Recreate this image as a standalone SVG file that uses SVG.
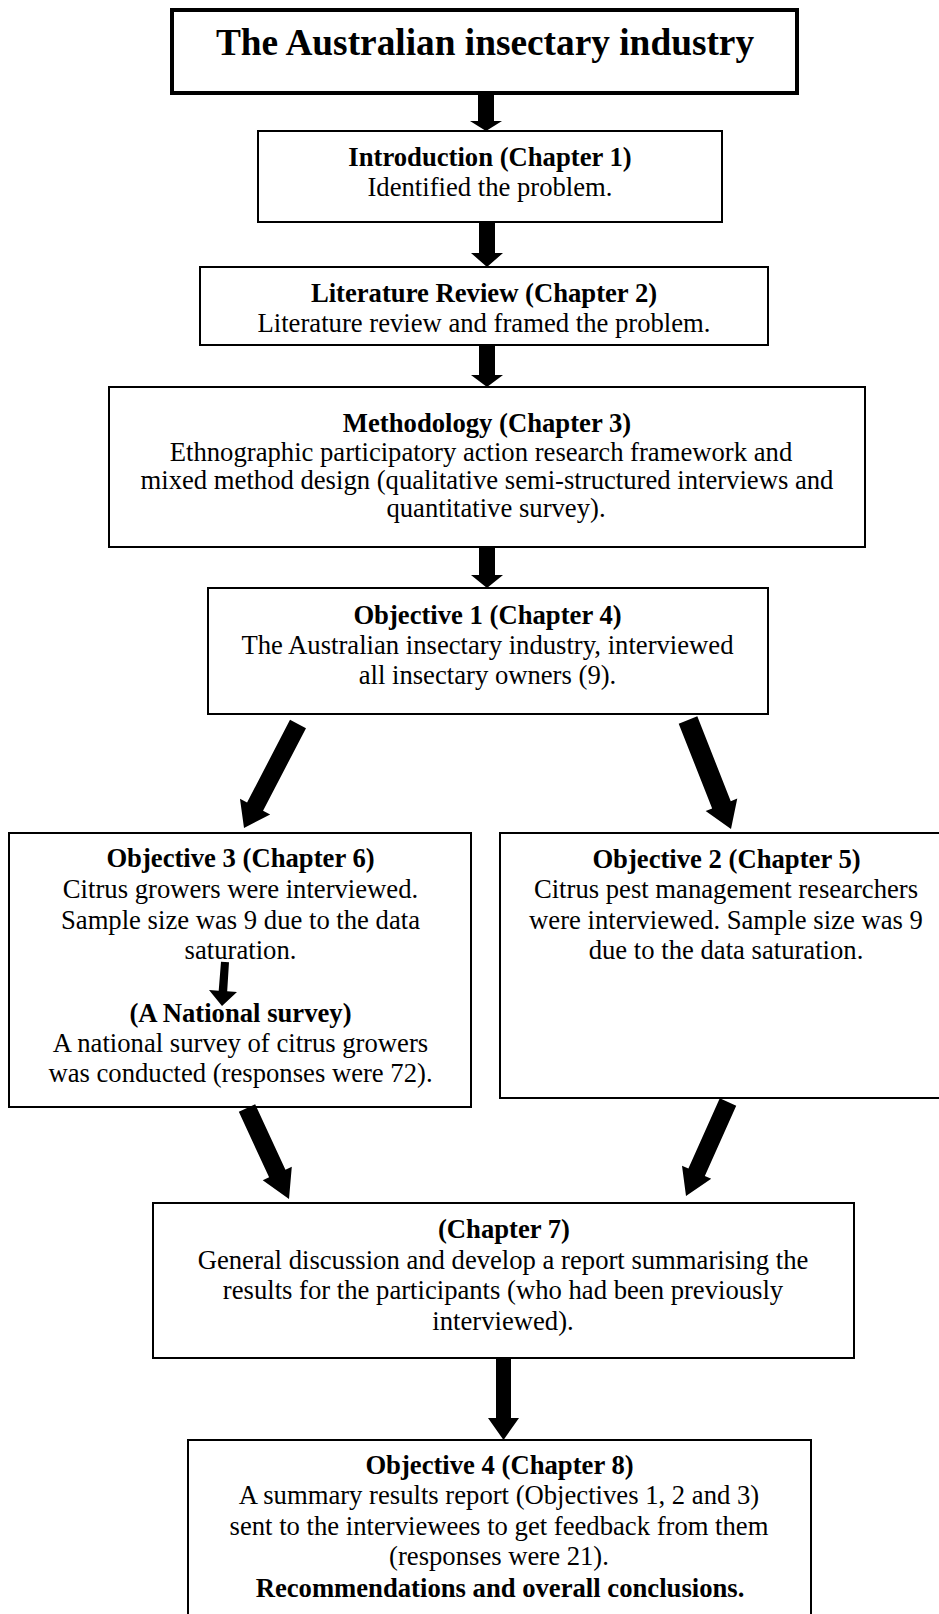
<svg xmlns="http://www.w3.org/2000/svg" width="939" height="1614" viewBox="0 0 939 1614">
<style>
.box{fill:#fff;stroke:#000;stroke-width:2}
.tbox{fill:#fff;stroke:#000;stroke-width:4}
.h{font-family:"Liberation Serif","Times New Roman",serif;font-weight:bold;font-size:26.67px;text-anchor:middle;fill:#000}
.t{font-family:"Liberation Serif","Times New Roman",serif;font-size:26.67px;text-anchor:middle;fill:#000}
.title{font-family:"Liberation Serif","Times New Roman",serif;font-weight:bold;font-size:37.33px;text-anchor:middle;fill:#000}
.arr{fill:#000;stroke:none}
</style>
<rect width="939" height="1614" fill="#fff"/>
<g id="title">
<rect class="tbox" x="172" y="10" width="625" height="83"/>
<text class="title" x="485" y="55">The Australian insectary industry</text>
</g>
<g id="intro">
<rect class="box" x="258" y="131" width="464" height="91"/>
<text class="h" x="490" y="165.5">Introduction (Chapter 1)</text>
<text class="t" x="490" y="195.5">Identified the problem.</text>
</g>
<g id="litreview">
<rect class="box" x="200" y="267" width="568" height="78"/>
<text class="h" x="484" y="301.5">Literature Review (Chapter 2)</text>
<text class="t" x="484" y="331.5">Literature review and framed the problem.</text>
</g>
<g id="method">
<rect class="box" x="109" y="387" width="756" height="160"/>
<text class="h" x="487" y="431.5">Methodology (Chapter 3)</text>
<text class="t" x="481" y="460.5">Ethnographic participatory action research framework and</text>
<text class="t" x="487" y="489">mixed method design (qualitative semi-structured interviews and</text>
<text class="t" x="496" y="517">quantitative survey).</text>
</g>
<g id="obj1">
<rect class="box" x="208" y="588" width="560" height="126"/>
<text class="h" x="487.5" y="623.5">Objective 1 (Chapter 4)</text>
<text class="t" x="487.5" y="653.5">The Australian insectary industry, interviewed</text>
<text class="t" x="487.5" y="684">all insectary owners (9).</text>
</g>
<g id="obj3">
<rect class="box" x="9" y="833" width="462" height="274"/>
<text class="h" x="240.5" y="867">Objective 3 (Chapter 6)</text>
<text class="t" x="240.5" y="898">Citrus growers were interviewed.</text>
<text class="t" x="240.5" y="928.5">Sample size was 9 due to the data</text>
<text class="t" x="240.5" y="959">saturation.</text>
<text class="h" x="240.5" y="1021.5">(A National survey)</text>
<text class="t" x="240.5" y="1051.5">A national survey of citrus growers</text>
<text class="t" x="240.5" y="1081.5">was conducted (responses were 72).</text>
</g>
<g id="obj2">
<rect class="box" x="500" y="833" width="452" height="265"/>
<text class="h" x="726.5" y="868">Objective 2 (Chapter 5)</text>
<text class="t" x="726" y="898">Citrus pest management researchers</text>
<text class="t" x="726" y="928.5">were interviewed. Sample size was 9</text>
<text class="t" x="726" y="959">due to the data saturation.</text>
</g>
<g id="ch7">
<rect class="box" x="153" y="1203" width="701" height="155"/>
<text class="h" x="504" y="1237.5">(Chapter 7)</text>
<text class="t" x="503" y="1268.5">General discussion and develop a report summarising the</text>
<text class="t" x="503" y="1299">results for the participants (who had been previously</text>
<text class="t" x="503" y="1329.5">interviewed).</text>
</g>
<g id="obj4">
<rect class="box" x="188" y="1440" width="623" height="190"/>
<text class="h" x="499.5" y="1474">Objective 4 (Chapter 8)</text>
<text class="t" x="499" y="1504">A summary results report (Objectives 1, 2 and 3)</text>
<text class="t" x="499" y="1535">sent to the interviewees to get feedback from them</text>
<text class="t" x="499" y="1565">(responses were 21).</text>
<text class="h" x="500" y="1596.5">Recommendations and overall conclusions.</text>
</g>
<g id="connectors">
<polygon class="arr" points="478,93 494,93 494,121 502,121 486,131 470,121 478,121"/>
<polygon class="arr" points="479,222 495,222 495,253 503,253 487,267 471,253 479,253"/>
<polygon class="arr" points="479,345 495,345 495,375 503,375 487,387 471,375 479,375"/>
<polygon class="arr" points="479,547 495,547 495,575 503,575 487,588 471,575 479,575"/>
<polygon class="arr" points="290.01,719.85 305.99,728.15 263.05,810.85 270.15,814.53 244,828 239.97,798.87 247.07,802.55"/>
<polygon class="arr" points="697.30,716.33 730.76,801.15 737.27,798.58 731,829 705.65,811.06 712.16,808.49 678.70,723.67"/>
<polygon class="arr" points="229,962.3 227.2,991.3 237,992 222,1006 209,990 218.7,990.7 221,961.7"/>
<polygon class="arr" points="238.83,1111.77 255.17,1104.23 285.44,1169.80 291.80,1166.86 289,1199 262.74,1180.28 269.10,1177.34"/>
<polygon class="arr" points="719.78,1098.33 736.22,1105.67 704.83,1175.93 711.22,1178.79 686,1196 682.00,1165.73 688.39,1168.59"/>
<polygon class="arr" points="496,1358 511,1358 511,1418 519,1418 503.5,1440 488,1418 496,1418"/>
</g>
</svg>
